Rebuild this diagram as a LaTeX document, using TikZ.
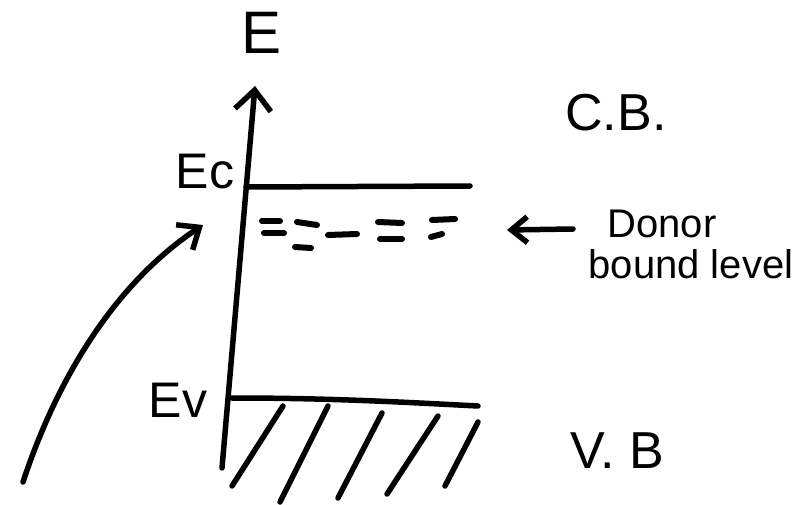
\documentclass[tikz,border=0pt]{standalone}
\usepackage{fontspec}
\setmainfont{Liberation Sans}
\usetikzlibrary{arrows.meta}

\begin{document}
\begin{tikzpicture}[x=1pt, y=-1pt, line width=5.5pt, line cap=round,
    barb/.style={-{Straight Barb[length=20pt,width=36pt]}},
    biglabel/.style={inner sep=0pt, font=\fontsize{52}{52}\selectfont},
    smalllabel/.style={inner sep=0pt, font=\fontsize{40}{40}\selectfont}]
    \useasboundingbox (0,0) rectangle (800,505);

    % Energy axis
    \coordinate (axbot) at (222,468);
    \coordinate (axtop) at (255,86);
    \draw[barb] (axbot) -- (axtop);
    \node[biglabel, font=\fontsize{60}{60}\selectfont] (elabel) at (262,33) {E};

    % Conduction band edge
    \coordinate (ecleft) at (246,187);
    \coordinate (ecright) at (470,186);
    \draw (ecleft) -- (ecright);
    \node[biglabel, font=\fontsize{50}{50}\selectfont] (eclabel) at (205,172) {Ec};
    \node[biglabel] (cb) at (616,113) {C.B.};

    % Valence band edge
    \coordinate (evleft) at (232,398);
    \coordinate (evright) at (478,406);
    \draw (evleft) .. controls (330,398) and (400,402) .. (evright);
    \node[biglabel, font=\fontsize{50}{50}\selectfont] (evlabel) at (178,400) {Ev};
    \node[biglabel] (vb) at (617,451) {V. B};

    % Filled band
    \draw (232,486) -- (283,406);
    \draw (280,502) -- (328,406);
    \draw (338,498) -- (382,413);
    \draw (387,494) -- (438,416);
    \draw (445,486) -- (478,422);

    % Donor level
    \begin{scope}[line width=6pt]
        \draw (262,221) -- (280,221);
        \draw (264,233) -- (284,233);
        \draw (297,222) -- (317,225);
        \draw (295,247) -- (311,248);
        \draw (328,235) -- (357,234);
        \draw (378,222) -- (402,223);
        \draw (380,239) -- (402,239);
        \draw (432,220) -- (455,219);
        \draw (431,237) -- (442,234);
    \end{scope}
    \node[smalllabel] (donor) at (662,224) {Donor};
    \node[smalllabel] (bound) at (691,264) {bound level};
    \coordinate (donortail) at (573,229);
    \coordinate (donortip) at (507,230);
    \draw[-{Straight Barb[length=16pt,width=26pt]}] (donortail) -- (donortip);

    % Excitation arrow
    \coordinate (exstart) at (23,482);
    \coordinate (exend) at (203,225);
    \draw[-{Straight Barb[length=18pt,width=30pt]}] (exstart) .. controls (60,370) and (120,280) .. (exend);
\end{tikzpicture}
\end{document}
